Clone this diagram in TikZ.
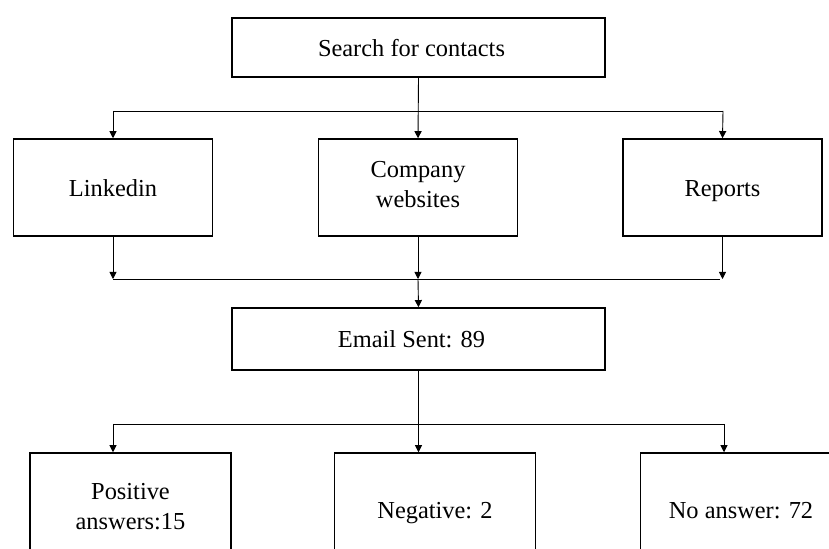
\documentclass[tikz,border=0pt]{standalone}
\usepackage{fontspec}
\setmainfont{Liberation Serif}
\usetikzlibrary{arrows.meta}
\newcommand{\boxstrut}{\rule[-3pt]{0pt}{15pt}}

\tikzset{
	box/.style={draw,line width=0.75pt,align=center,inner sep=0pt,font=\fontsize{12.2}{15}\selectfont,
		execute at begin node=\boxstrut,execute at end node=\boxstrut},
	link/.style={line width=0.45pt,-{Triangle[length=3.6pt,width=3.6pt]}},
}

\begin{document}
\begin{tikzpicture}[x=0.5pt,y=-0.5pt]
			\useasboundingbox (0,0) rectangle (829,549);
			\clip (0,0) rectangle (829,549);
			\node[box,minimum width=186.5pt,minimum height=29.5pt] (search) at (418.5,47.5) {Search for contacts\hspace*{7pt}};
			\foreach \n/\x/\t in {linkedin/113/Linkedin,company/418/{Company\\websites},reports/722.5/Reports} {\node[box,minimum width=99.5pt,minimum height=48.5pt] (\n) at (\x,187.5) {\t};}
			\node[box,minimum width=186.5pt,minimum height=31pt] (email) at (418.5,339) {Email Sent: 89\hspace*{7pt}};
			\foreach \n/\x/\t in {positive/130.5/{Positive\\answers:15},negative/435/{Negative: 2},noanswer/741/{No answer: 72}} {\node[box,minimum width=100.5pt,minimum height=56pt] (\n) at (\x,509) {\t};}
			% search -> sources
			\coordinate (splitL) at (113,111);
			\coordinate (splitR) at (723,111);
			\draw[line width=0.45pt] (splitL) -- (splitR);
			\draw[link] (search.south) -- (company.north);
			\draw[link] (splitL) -- (linkedin.north);
			\draw[link] (splitR) -- (reports.north);
			% sources -> email
			\coordinate (mergeL) at (113,279);
			\coordinate (mergeR) at (720,279);
			\draw[line width=0.45pt] (mergeL) -- (mergeR);
			\foreach \n in {linkedin,company,reports} {\draw[link] (\n.south) -- (\n.south |- mergeL);}
			\draw[link] (company.south |- mergeL) -- (email.north);
			% email -> answers
			\coordinate (fanL) at (113,424);
			\coordinate (fanR) at (724,424);
			\draw[line width=0.45pt] (fanL) -- (fanR);
			\draw[link] (email.south) -- (email.south |- negative.north);
			\draw[link] (fanL) -- (fanL |- positive.north);
			\draw[link] (fanR) -- (fanR |- noanswer.north);
		\end{tikzpicture}
\end{document}
